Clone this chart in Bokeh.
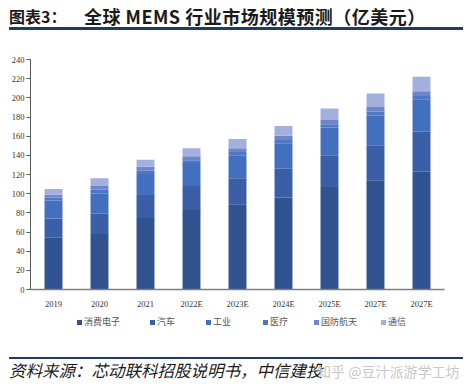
from bokeh.plotting import figure
from bokeh.models import FixedTicker, Div
from bokeh.layouts import column
from bokeh.embed import file_html
from bokeh.resources import INLINE

categories = ["2019", "2020", "2021", "2022E", "2023E", "2024E", "2025E", "2027E", "2027E"]
consumer = [54, 58, 74.5, 83, 89, 96, 107, 114, 123]
auto = [20, 21, 24, 25, 27, 30, 33, 36.5, 41.5]
industrial = [19, 21, 22, 24, 24, 26.5, 29, 31, 34]
medical = [3, 4, 3.5, 3, 3.5, 3.5, 3.5, 4, 3.5]
defense = [3, 4, 4, 4, 4, 4.5, 4.5, 5, 5]
telecom = [6, 8, 7.5, 8.5, 9.5, 10, 12, 14, 15]
series_names = ["消费电子", "汽车", "工业", "医疗", "国防航天", "通信"]
y_ticks = list(range(0, 241, 20))
title_prefix = "图表3："
title_main = "全球 MEMS 行业市场规模预测（亿美元）"
source_text = "资料来源：芯动联科招股说明书，中信建投"
watermark = "知乎 @豆汁派游学工坊"

colors = ["#30528F", "#3A5FA6", "#4370BE", "#5077C3", "#6E86C9", "#A3AFDC"]
keys = ["consumer", "auto", "industrial", "medical", "defense", "telecom"]

xs = list(range(len(categories)))
data = dict(x=xs, consumer=consumer, auto=auto, industrial=industrial,
            medical=medical, defense=defense, telecom=telecom)

p = figure(width=458, height=273, output_backend="svg", toolbar_location=None,
           x_range=(-0.5, len(categories) - 0.5), y_range=(0, 240),
           min_border_left=30, min_border_right=14, min_border_top=21, min_border_bottom=21)
p.outline_line_color = None
p.grid.visible = False

renderers = p.vbar_stack(keys, x="x", width=0.39, color=colors, line_color=None, source=data)

p.yaxis.ticker = FixedTicker(ticks=y_ticks)
p.yaxis.axis_line_color = "#595959"
p.yaxis.major_tick_line_color = "#595959"
p.yaxis.major_tick_out = 4
p.yaxis.major_tick_in = 0
p.yaxis.minor_tick_line_color = None
p.yaxis.major_label_text_font = "Liberation Serif"
p.yaxis.major_label_text_font_size = "8.5px"
p.yaxis.major_label_text_color = "#333333"
p.yaxis.major_label_standoff = 2

p.xaxis.ticker = FixedTicker(ticks=xs)
p.xaxis.major_label_overrides = {i: c for i, c in enumerate(categories)}
p.xaxis.axis_line_color = "#7f7f7f"
p.xaxis.axis_line_width = 1.5
p.xaxis.major_tick_line_color = None
p.xaxis.minor_tick_line_color = None
p.xaxis.major_label_text_font = "Liberation Serif"
p.xaxis.major_label_text_font_size = "8.5px"
p.xaxis.major_label_text_color = "#333333"
p.xaxis.major_label_standoff = 3

legend_left = [72, 145, 201, 258, 309, 376]
legend_html = "".join(
    f'<span style="position:absolute;left:{lx}px;top:0;height:12px;display:flex;align-items:center;">'
    f'<span style="display:inline-block;width:5px;height:5px;background:{c};margin-right:2px;"></span>'
    f'<span style="line-height:12px;">{n}</span></span>'
    for lx, n, c in zip(legend_left, series_names, colors))
legend_div = Div(width=458, height=12, text=(
    '<div style="position:relative;height:12px;width:458px;'
    'font-family:\'Liberation Serif\',\'Noto Sans CJK SC\';font-size:9px;color:#555555;white-space:nowrap;">'
    f'{legend_html}</div>'))

title_div = Div(width=458, height=28, text=(
    '<div style="position:relative;width:454px;height:25px;margin-left:4px;'
    'border-bottom:3px solid #1F3A6B;font-family:\'Noto Sans CJK SC\';font-weight:bold;color:#1a1a1a;">'
    f'<span style="position:absolute;left:0;top:1px;font-size:16px;line-height:20px;">{title_prefix}</span>'
    f'<span style="position:absolute;left:75px;top:0px;font-size:18px;line-height:22px;letter-spacing:0.5px;white-space:nowrap;">{title_main}</span>'
    '</div>'))

source_div = Div(width=458, height=44, text=(
    '<div style="position:relative;width:454px;height:22px;margin-left:4px;margin-top:19px;'
    'border-top:2px solid #1F3A6B;font-family:\'Noto Sans CJK SC\';">'
    f'<span style="position:absolute;left:0;top:3px;font-size:16.5px;line-height:17px;font-style:italic;color:#1a1a1a;white-space:nowrap;">{source_text}</span>'
    f'<span style="position:absolute;left:308px;top:4px;font-size:14px;line-height:16px;color:#c8c8c8;white-space:nowrap;">{watermark}</span>'
    '</div>'))

layout = column(title_div, p, legend_div, source_div, spacing=0)

open("out.html", "w").write(file_html(layout, INLINE))
